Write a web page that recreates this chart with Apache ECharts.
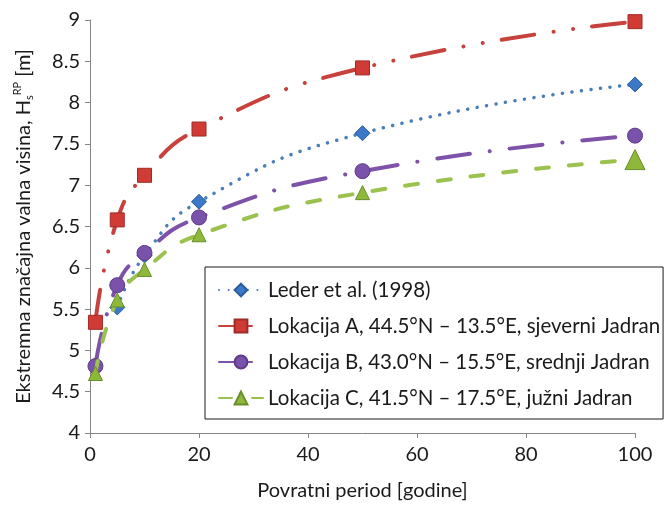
<!DOCTYPE html>
<html>
<head>
<meta charset="utf-8">
<script src="https://cdn.jsdelivr.net/npm/echarts@6/dist/echarts.min.js"></script>
<style>html,body{margin:0;padding:0;background:#fff}#c{width:670px;height:506px}</style>
</head>
<body>
<div id="c"></div>
<script>
// Data
var seriesNames = [
  'Leder et al. (1998)',
  'Lokacija A, 44.5°N – 13.5°E, sjeverni Jadran',
  'Lokacija B, 43.0°N – 15.5°E, srednji Jadran',
  'Lokacija C, 41.5°N – 17.5°E, južni Jadran'
];
var lederX = [5, 10, 20, 50, 100];
var lederY = [5.52, 6.15, 6.80, 7.63, 8.22];
var locX = [1, 5, 10, 20, 50, 100];
var locA = [5.34, 6.58, 7.12, 7.68, 8.42, 8.98];
var locB = [4.81, 5.79, 6.18, 6.61, 7.17, 7.60];
var locC = [4.72, 5.61, 5.98, 6.40, 6.91, 7.31];
var xTicks = {min: 0, max: 100, interval: 20};
var yTicks = {min: 4, max: 9, interval: 0.5};

function pairs(xs, ys) { return xs.map(function (x, i) { return [x, ys[i]]; }); }

var FONT = 'Lato';
var FS = 20;
var chart = echarts.init(document.getElementById('c'), null, {renderer: 'canvas'});
chart.setOption({
  backgroundColor: '#fff',
  animation: false,
  textStyle: {fontFamily: FONT},
  grid: {left: 90, right: 35, top: 20, bottom: 73},
  xAxis: {
    type: 'value', min: xTicks.min, max: xTicks.max, interval: xTicks.interval,
    name: 'Povratni period [godine]', nameLocation: 'middle', nameGap: 48,
    nameTextStyle: {fontFamily: FONT, fontSize: FS, color: '#1a1a1a'},
    axisLine: {lineStyle: {color: '#868686', width: 1}},
    axisTick: {show: true, length: 5, lineStyle: {color: '#868686'}},
    axisLabel: {fontFamily: FONT, fontSize: FS, color: '#1a1a1a', margin: 12},
    splitLine: {show: false}
  },
  yAxis: {
    type: 'value', min: yTicks.min, max: yTicks.max, interval: yTicks.interval,
    name: '{n|Ekstremna značajna valna visina, H}{sub|s}{sup|RP}{n| [m]}',
    nameLocation: 'middle', nameGap: 52, nameRotate: 90,
    nameTextStyle: {
      fontFamily: FONT, fontSize: FS, color: '#1a1a1a',
      rich: {
        n: {fontFamily: FONT, fontSize: FS, color: '#1a1a1a', lineHeight: 28, verticalAlign: 'middle'},
        sub: {fontFamily: FONT, fontSize: 11, color: '#1a1a1a', lineHeight: 11, verticalAlign: 'bottom', padding: [0, 0, 3, 0]},
        sup: {fontFamily: FONT, fontSize: 11, color: '#1a1a1a', lineHeight: 11, verticalAlign: 'top', padding: [2, 0, 0, 0]}
      }
    },
    axisLine: {show: true, lineStyle: {color: '#868686', width: 1}},
    axisTick: {show: true, length: 5, lineStyle: {color: '#868686'}},
    axisLabel: {fontFamily: FONT, fontSize: FS, color: '#1a1a1a', margin: 10},
    splitLine: {show: false}
  },
  legend: {
    orient: 'vertical', left: 205, top: 267,
    backgroundColor: '#fff', borderColor: '#1a1a1a', borderWidth: 1,
    padding: [12, 3, 10, 13], itemGap: 14, itemWidth: 44, itemHeight: 16,
    textStyle: {fontFamily: FONT, fontSize: 20.5, color: '#1a1a1a', lineHeight: 22},
    data: seriesNames
  },
  series: [
    {
      name: seriesNames[0], type: 'line', smooth: 0.5, data: pairs(lederX, lederY),
      symbol: 'diamond', symbolSize: 15, z: 4,
      lineStyle: {color: '#4A7EBB', width: 3.5, type: [0.1, 9.5], cap: 'round'},
      itemStyle: {color: '#3C78C8', borderColor: '#2D5D99', borderWidth: 1}
    },
    {
      name: seriesNames[1], type: 'line', smooth: 0.5, data: pairs(locX, locA),
      symbol: 'rect', symbolSize: 14, z: 3,
      lineStyle: {color: '#C8423D', width: 4, type: [33, 19.5, 0.1, 19.5, 0.1, 19], cap: 'round'},
      itemStyle: {color: '#D03B36', borderColor: '#A02A26', borderWidth: 1}
    },
    {
      name: seriesNames[2], type: 'line', smooth: 0.5, data: pairs(locX, locB),
      symbol: 'circle', symbolSize: 15, z: 5,
      lineStyle: {color: '#7D52A8', width: 4, type: [33, 20, 0.1, 20], cap: 'round'},
      itemStyle: {color: '#7B52AB', borderColor: '#5D3A86', borderWidth: 1}
    },
    {
      name: seriesNames[3], type: 'line', smooth: 0.5, data: pairs(locX, locC),
      symbol: 'triangle',
      symbolSize: function (v, p) { return p.dataIndex === locX.length - 1 ? 20 : 14; }, z: 6,
      lineStyle: {color: '#9BC24E', width: 4, type: [13, 20], cap: 'round'},
      itemStyle: {color: '#8DB83A', borderColor: '#6A8E2A', borderWidth: 1}
    }
  ]
});
</script>
</body>
</html>
